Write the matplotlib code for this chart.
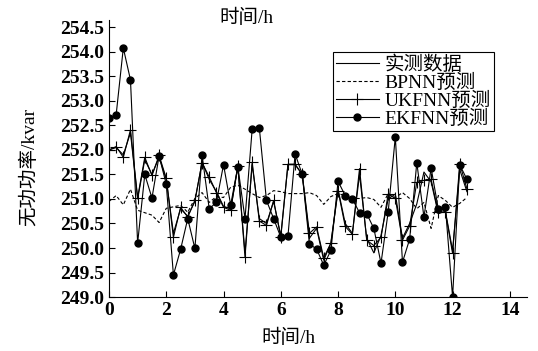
import numpy as np
import matplotlib
matplotlib.use("Agg")
import matplotlib.pyplot as plt

plt.rcParams['font.family'] = ['Liberation Serif', 'Noto Sans CJK SC']
plt.rcParams['mathtext.fontset'] = 'stix'

time_h = np.arange(51) * 0.25

actual = [252.0, 252.05, 251.9, 252.35, 251.0, 251.8, 251.5, 251.85, 251.4, 250.3,
          250.8, 250.65, 250.95, 251.75, 251.4, 251.15, 250.85, 250.8, 251.65, 249.9,
          251.7, 250.6, 250.5, 250.95, 250.25, 251.7, 251.7, 251.5, 250.2, 250.4,
          249.75, 250.1, 251.2, 250.5, 250.3, 251.5, 250.2, 249.9, 250.25, 251.0,
          251.1, 250.2, 250.5, 250.9, 251.55, 251.35, 250.7, 250.75, 249.95, 251.6,
          251.15]
bpnn = [250.95, 251.07, 250.88, 251.2, 250.77, 250.72, 250.67, 250.52, 250.81, 250.84,
        250.87, 250.73, 251.01, 251.13, 250.93, 251.05, 251.03, 251.24, 251.28, 251.2,
        251.11, 251.03, 251.07, 251.17, 251.15, 251.11, 251.11, 251.11, 251.13, 251.07,
        250.89, 251.05, 251.11, 251.07, 251.01, 251.01, 251.03, 250.99, 250.83, 251.11,
        251.03, 251.13, 251.01, 250.8, 250.93, 250.4, 251.07, 250.97, 250.83, 250.91,
        251.03]
ukfnn = [252.0, 252.07, 251.85, 252.41, 251.03, 251.85, 251.48, 251.89, 251.42, 250.22,
         250.83, 250.63, 250.97, 251.74, 251.45, 251.13, 250.83, 250.77, 251.68, 249.81,
         251.75, 250.55, 250.46, 250.97, 250.22, 251.71, 251.71, 251.5, 250.3, 250.43,
         249.8, 250.1, 251.17, 250.44, 250.28, 251.62, 250.16, 250.05, 250.22, 251.1,
         251.01, 250.16, 250.45, 251.34, 251.38, 251.4, 250.73, 250.73, 249.89, 251.72,
         251.21]
ekfnn = [252.65, 252.72, 254.08, 253.43, 250.1, 251.5, 251.02, 251.88, 251.3, 249.45,
         249.97, 250.6, 249.99, 251.9, 250.8, 250.93, 251.7, 250.88, 251.66, 250.6,
         252.42, 252.45, 250.97, 250.6, 250.22, 250.24, 251.92, 251.5, 250.08, 249.98,
         249.65, 249.95, 251.36, 251.07, 251.0, 250.72, 250.7, 250.4, 249.69, 250.73,
         252.27, 249.71, 250.18, 251.74, 250.63, 251.63, 250.8, 250.83, 249.0, 251.7,
         251.4]

labels = ['实测数据', 'BPNN预测', 'UKFNN预测', 'EKFNN预测']
x_ticks = [0, 2, 4, 6, 8, 10, 12, 14]
y_ticks = [249.0, 249.5, 250.0, 250.5, 251.0, 251.5, 252.0, 252.5, 253.0, 253.5, 254.0, 254.5]

fig = plt.figure(figsize=(5.38, 3.51), dpi=100)
ax = fig.add_axes([0.2026, 0.1538, 0.7770, 0.789])

lw = 0.8
ax.plot(time_h, actual, color='black', lw=lw, label=labels[0])
ax.plot(time_h, bpnn, color='black', lw=lw, ls=(0, (3, 2)), label=labels[1])
ax.plot(time_h, ukfnn, color='black', lw=lw, marker='+', ms=9, mew=0.8, label=labels[2])
ax.plot(time_h, ekfnn, color='black', lw=lw, marker='o', ms=5, label=labels[3])

ax.set_xlim(0, 14.6)
ax.set_ylim(249.0, 254.65)
ax.set_xticks(x_ticks)
ax.set_xticklabels([str(v) for v in x_ticks])
ax.set_yticks(y_ticks)
ax.set_yticklabels([f'{v:.1f}' for v in y_ticks])
for s in ['top', 'right']:
    ax.spines[s].set_visible(False)
for s in ['left', 'bottom']:
    ax.spines[s].set_linewidth(0.8)
ax.tick_params(direction='in', length=4, width=0.8, labelsize=14)
for t in ax.get_xticklabels() + ax.get_yticklabels():
    t.set_fontweight('bold')

ax.set_xlabel('时间/h', fontsize=14, labelpad=6)
ax.xaxis.set_label_coords(0.43, -0.115)
ax.set_ylabel('无功功率/kvar', fontsize=14)
ax.yaxis.set_label_coords(-0.17, 0.47)
ax.set_title('时间/h', fontsize=14, y=1.0, pad=-2, x=0.33)

leg = ax.legend(loc='upper left', bbox_to_anchor=(0.536, 0.884), borderaxespad=0,
                fontsize=14, frameon=True, fancybox=False, framealpha=1,
                edgecolor='black', handlelength=2.2, handletextpad=0.3,
                labelspacing=0.0, borderpad=0.15)
leg.get_frame().set_linewidth(0.8)

fig.savefig('out.png', dpi=100)
